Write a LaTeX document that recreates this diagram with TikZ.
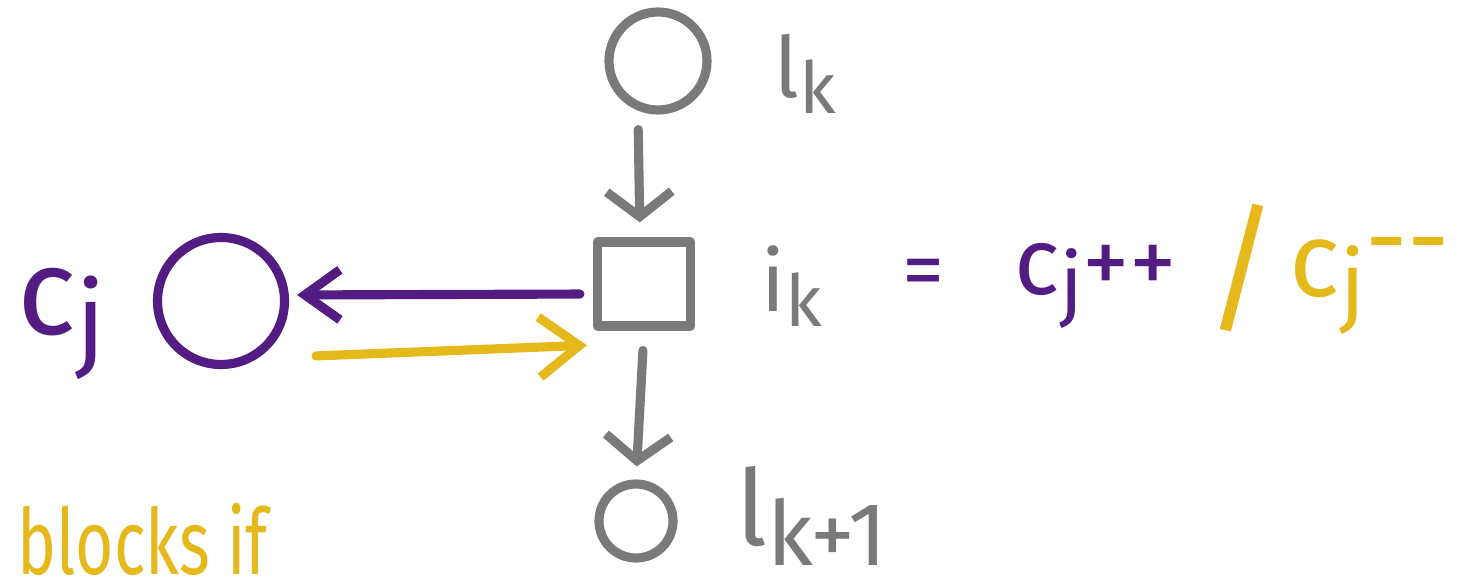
\documentclass[tikz,border=0pt]{standalone}
\usepackage{fontspec}
\setmainfont{Fira Sans}
\usetikzlibrary{arrows.meta}
\definecolor{chalkgray}{RGB}{122,122,122}
\definecolor{incpurple}{RGB}{82,28,130}
\definecolor{decyellow}{RGB}{229,184,28}
\newcommand{\lowsub}[1]{\raisebox{-0.35ex}{\scalebox{0.85}{#1}}}
\newcommand{\fsz}[1]{\fontsize{#1}{#1}\selectfont}

\begin{document}
\begin{tikzpicture}
            \tikzstyle{ink} = [line width=2.6pt, line cap=round, line join=round]
            \tikzstyle{state} = [ink, draw=chalkgray, circle, inner sep=0pt]
            \tikzstyle{flow} = [ink, chalkgray, -{Straight Barb[length=2.5mm, width=6.5mm]}]
            \useasboundingbox (0, 0) rectangle (14.81, 5.86);
            \node[state, minimum size=0.98cm] (lk) at (6.58, 5.25) {};
            \node[ink, draw=chalkgray, minimum width=0.93cm, minimum height=0.84cm, inner sep=0pt] (instr) at (6.44, 3.02) {};
            \node[state, minimum size=0.74cm] (lk1) at (6.36, 0.65) {};
            \node[ink, draw=incpurple, circle, minimum size=1.27cm, inner sep=0pt] (counter) at (2.21, 2.85) {};
            \node[chalkgray, font=\fsz{24}] (lklabel) at (8.05, 5.12) {l\lowsub{k}};
            \node[chalkgray, font=\fsz{24}] (iklabel) at (7.92, 3.0) {i\lowsub{k}};
            \node[chalkgray, font=\fsz{30}, inner sep=0pt] (lk1label) at (8.12, 0.7) {l\lowsub{k+1}};
            \node[incpurple, font=\fsz{35}] (cjlabel) at (0.62, 2.62) {c\lowsub{j}};
            \node[incpurple, font=\fsz{24}] (eq) at (9.24, 3.07) {=};
            \node[incpurple, font=\fsz{27}] (incr) at (10.96, 3.0) {c\lowsub{j}++};
            \node[decyellow, font=\fsz{40}] (slash) at (12.42, 3.18) {/};
            \node[decyellow, font=\fsz{30}] (decr) at (13.70, 3.0) {c\lowsub{j}\raisebox{0.4ex}{-{}-}};
            \node[decyellow, font=\fsz{26}, anchor=base west, inner sep=0pt] (blocks) at (0.17, 0.12) {\scalebox{0.72}[1]{blocks if}};
            \draw[flow, shorten <=1.5mm, shorten >=1.5mm] ([xshift=-2mm]lk.south) -- ([xshift=-0.4mm]instr.north);
            \draw[flow, shorten <=2mm, shorten >=1.3mm] (instr.south) -- (lk1.north);
            \draw[ink, incpurple, -{Straight Barb[length=3.5mm, width=5mm]}, shorten <=1.3mm, shorten >=0.8mm] ([yshift=-1mm]instr.west) -- ([yshift=0.6mm]counter.east);
            \draw[ink, decyellow, -{Straight Barb[length=4mm, width=6mm]}, shorten <=2.7mm, shorten >=0.6mm] ([yshift=-5.6mm]counter.east) -- ([yshift=-6.1mm]instr.west);
        \end{tikzpicture}
\end{document}
